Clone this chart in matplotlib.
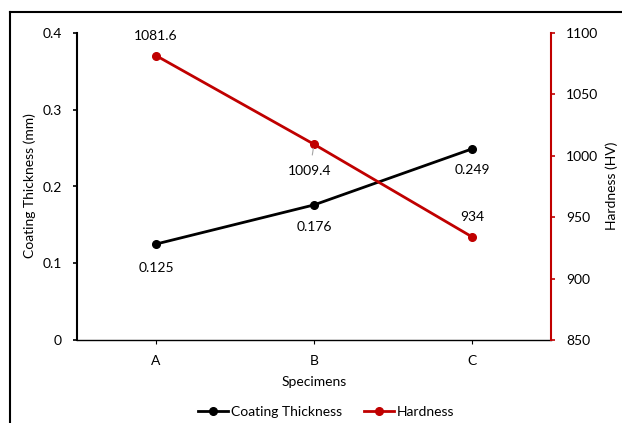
import matplotlib
matplotlib.use("Agg")
import matplotlib.pyplot as plt
from matplotlib.lines import Line2D

specimens = ["A", "B", "C"]
thickness = [0.125, 0.176, 0.249]
hardness = [1081.6, 1009.4, 934]
thickness_ticks = [0, 0.1, 0.2, 0.3, 0.4]
thickness_tick_labels = ["0", "0.1", "0.2", "0.3", "0.4"]
hardness_ticks = [850, 900, 950, 1000, 1050, 1100]

plt.rcParams["font.family"] = ["Lato", "DejaVu Sans"]
FS = 10

W, H = 622, 423
fig = plt.figure(figsize=(W / 100, H / 100), dpi=100)

# axes box in pixel coordinates
left, right, top, bottom = 77, 551, 33, 340
ax = fig.add_axes([left / W, 1 - bottom / H, (right - left) / W, (bottom - top) / H])
ax2 = ax.twinx()

x = list(range(len(specimens)))
black = "#000000"
red = "#C00000"

ax.plot(x, thickness, color=black, lw=2, marker="o", ms=5.5, zorder=3)
ax2.plot(x, hardness, color=red, lw=2, marker="o", ms=5.5, zorder=3)

ax.set_xlim(-0.5, 2.5)
ax.set_ylim(0, 0.4)
ax2.set_ylim(850, 1100)
ax.set_xticks(x)
ax.set_xticklabels(specimens, fontsize=FS)
ax.set_yticks(thickness_ticks)
ax.set_yticklabels(thickness_tick_labels, fontsize=FS)
ax2.set_yticks(hardness_ticks)
ax2.set_yticklabels([str(v) for v in hardness_ticks], fontsize=FS)

for s in ["top", "right"]:
    ax.spines[s].set_visible(False)
ax2.spines["top"].set_visible(False)
ax2.spines["left"].set_visible(False)
ax2.spines["bottom"].set_visible(False)
ax.spines["left"].set_color(black)
ax.spines["left"].set_linewidth(1.5)
ax.spines["bottom"].set_color(black)
ax.spines["bottom"].set_linewidth(1.0)
ax2.spines["right"].set_color(red)
ax2.spines["right"].set_linewidth(1.5)

ax.tick_params(axis="y", direction="out", length=3, width=1.2, pad=8, colors=black)
ax.tick_params(axis="x", direction="out", length=3, width=0.8, pad=8)
ax2.tick_params(axis="y", direction="out", length=3, width=1.2, pad=8, colors=red, labelcolor=black)

# axis titles
fig.text(314 / W, 1 - 382 / H, "Specimens", ha="center", va="center", fontsize=FS)
fig.text(30 / W, 1 - 186 / H, "Coating Thickness (mm)", ha="center", va="center",
         rotation=90, fontsize=FS)
fig.text(612 / W, 1 - 186 / H, "Hardness (HV)", ha="center", va="center",
         rotation=90, fontsize=FS)

# data labels
ax.annotate(f"{thickness[0]}", (x[0], thickness[0]), xytext=(0, -17), textcoords="offset points",
            ha="center", va="center", fontsize=FS)
ax.annotate(f"{thickness[1]}", (x[1], thickness[1]), xytext=(0, -16), textcoords="offset points",
            ha="center", va="center", fontsize=FS)
ax.annotate(f"{thickness[2]}", (x[2], thickness[2]), xytext=(0, -15), textcoords="offset points",
            ha="center", va="center", fontsize=FS)

ax2.annotate(f"{hardness[0]}", (x[0], hardness[0]), xytext=(0, 14), textcoords="offset points",
             ha="center", va="center", fontsize=FS)
ax2.annotate(f"{hardness[1]}", (x[1], hardness[1]), xytext=(-3, -19), textcoords="offset points",
             ha="center", va="center", fontsize=FS,
             arrowprops=dict(arrowstyle="-", color="#A6A6A6", lw=0.8, shrinkA=5, shrinkB=3))
ax2.annotate(f"{hardness[2]:g}", (x[2], hardness[2]), xytext=(0, 14), textcoords="offset points",
             ha="center", va="center", fontsize=FS)

handles = [
    Line2D([], [], color=black, lw=2, marker="o", ms=5.5),
    Line2D([], [], color=red, lw=2, marker="o", ms=5.5),
]
fig.legend(handles, ["Coating Thickness", "Hardness"], loc="center",
           bbox_to_anchor=(326 / W, 1 - 412 / H), ncol=2, frameon=False,
           fontsize=FS, handlelength=2.2, handletextpad=0.15, columnspacing=1.6,
           borderpad=0)

# outer chart frame (top and left edges)
fig.add_artist(Line2D([10 / W, 1], [1 - 12 / H, 1 - 12 / H], transform=fig.transFigure, color="black", lw=1.5))
fig.add_artist(Line2D([10 / W, 10 / W], [0, 1 - 12 / H], transform=fig.transFigure, color="black", lw=1.5))

fig.savefig("out.png", dpi=100)
